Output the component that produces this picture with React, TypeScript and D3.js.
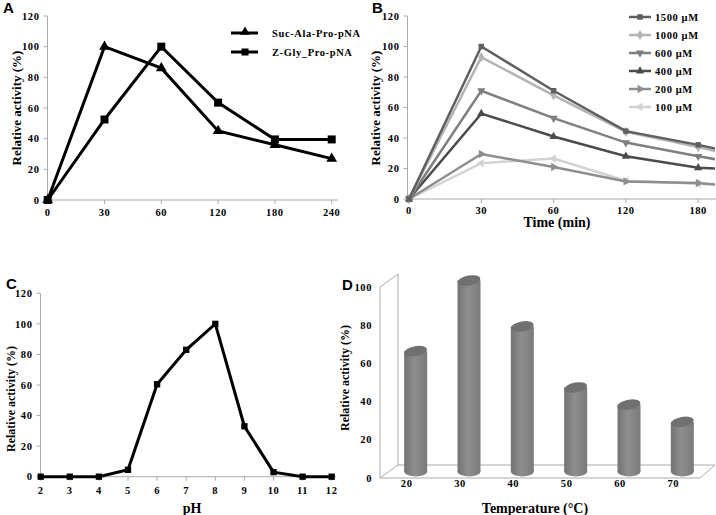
import * as d3 from 'd3';

// Panel A: substrate time course
const timeCatsA = ['0', '30', '60', '120', '180', '240'];
const sucAla = [0, 100, 86, 45, 36, 27];
const zGly = [0, 52.5, 100, 63.5, 39.5, 39.5];

// Panel B: concentration series (last point is beyond the clipped edge)
const timeCatsB = ['0', '30', '60', '120', '180', '240'];
const concLabels = ['1500 μM', '1000 μM', '600 μM', '400 μM', '200 μM', '100 μM'];
const concValues = [
  [0, 100, 71, 44.5, 35.5, 25],
  [0, 93, 68, 44, 34, 23],
  [0, 71, 53, 37, 28, 20],
  [0, 56, 41, 28, 20.5, 18],
  [0, 29.5, 21, 11.5, 10.5, 6],
  [0, 23.5, 26.5, 12, 10, 8],
];
const concColors = ['#5f5f5f', '#b3b3b3', '#7f7f7f', '#4b4b4b', '#8e8e8e', '#d2d2d2'];

// Panel C: pH profile
const phValues = [2, 3, 4, 5, 6, 7, 8, 9, 10, 11, 12];
const phActivity = [0, 0, 0, 4.5, 60.5, 83, 100, 33, 3, 0, 0];

// Panel D: temperature profile
const tempCats = ['20', '30', '40', '50', '60', '70'];
const tempActivity = [63, 100, 76, 44, 35, 26];

const yTicks = [0, 20, 40, 60, 80, 100, 120];
const yTicksD = [0, 20, 40, 60, 80, 100];

const serif = '"Liberation Serif", "Times New Roman", serif';
const sans = '"Liberation Sans", Arial, sans-serif';
const axisGray = '#aaaaaa';
const tickFont = { fontSize: 10.5, fontWeight: 'bold', fontFamily: serif, letterSpacing: 0.6 } as const;

const tri = d3.symbol().type(d3.symbolTriangle);
const sq = d3.symbol().type(d3.symbolSquare);
const dia = d3.symbol().type(d3.symbolDiamond);

function YAxis({ x, y, ticks }: { x: number; y: d3.ScaleLinear<number, number>; ticks: number[] }) {
  const [y0, y1] = y.range();
  return (
    <g>
      <line x1={x} x2={x} y1={y0} y2={y1} stroke={axisGray} />
      {ticks.map((t) => (
        <g key={t}>
          <line x1={x - 4} x2={x} y1={y(t)} y2={y(t)} stroke={axisGray} />
          <text x={x - 8} y={y(t)} dy="0.35em" textAnchor="end" {...tickFont}>
            {t}
          </text>
        </g>
      ))}
    </g>
  );
}

function PanelA() {
  const x = d3.scalePoint<string>().domain(timeCatsA).range([47.7, 331.7]);
  const y = d3.scaleLinear().domain([0, 120]).range([200, 16]);
  const line = d3.line<number>().x((_, i) => x(timeCatsA[i])!).y((d) => y(d));
  return (
    <g>
      <text x={3} y={13} fontSize={15} fontWeight="bold" fontFamily={sans}>A</text>
      <YAxis x={47.5} y={y} ticks={yTicks} />
      <line x1={47.5} x2={338} y1={200} y2={200} stroke={axisGray} />
      {timeCatsA.map((c) => (
        <g key={c}>
          <line x1={x(c)} x2={x(c)} y1={200} y2={204} stroke={axisGray} />
          <text x={x(c)} y={212} dy="0.35em" textAnchor="middle" {...tickFont}>{c}</text>
        </g>
      ))}
      <text transform="translate(21,108) rotate(-90)" textAnchor="middle" fontSize={13} fontWeight="bold" fontFamily={serif}>
        Relative activity (%)
      </text>
      <path d={line(sucAla)!} fill="none" stroke="#000" strokeWidth={3} />
      <path d={line(zGly)!} fill="none" stroke="#000" strokeWidth={3} />
      {sucAla.map((v, i) => (
        <path key={'t' + i} d={tri.size(50)()!} transform={`translate(${x(timeCatsA[i])},${y(v)})`} fill="#000" />
      ))}
      {zGly.map((v, i) => (
        <path key={'s' + i} d={sq.size(64)()!} transform={`translate(${x(timeCatsA[i])},${y(v)})`} fill="#000" />
      ))}
      <line x1={231} x2={258} y1={33} y2={33} stroke="#000" strokeWidth={3} />
      <path d={tri.size(40)()!} transform="translate(245,32)" fill="#000" />
      <text x={272} y={33} dy="0.35em" {...tickFont}>Suc-Ala-Pro-pNA</text>
      <line x1={231} x2={258} y1={52} y2={52} stroke="#000" strokeWidth={3} />
      <path d={sq.size(49)()!} transform="translate(245,52)" fill="#000" />
      <text x={272} y={52} dy="0.35em" {...tickFont}>Z-Gly_Pro-pNA</text>
    </g>
  );
}

function marker(i: number, size: number) {
  if (i === 0) return { d: sq.size(size)()!, rot: 0 };
  if (i === 1) return { d: dia.size(size)()!, rot: 0 };
  if (i === 2) return { d: tri.size(size)()!, rot: 180 };
  if (i === 3) return { d: tri.size(size)()!, rot: 0 };
  if (i === 4) return { d: tri.size(size)()!, rot: 90 };
  return { d: tri.size(size)()!, rot: -90 };
}

function PanelB() {
  const x = d3.scalePoint<string>().domain(timeCatsB).range([409, 770.5]);
  const y = d3.scaleLinear().domain([0, 120]).range([199, 16]);
  const line = d3.line<number>().x((_, i) => x(timeCatsB[i])!).y((d) => y(d));
  const order = d3.range(concValues.length).reverse();
  return (
    <g>
      <defs>
        <clipPath id="clipB">
          <rect x={400} y={0} width={315} height={205} />
        </clipPath>
      </defs>
      <text x={372} y={13} fontSize={15} fontWeight="bold" fontFamily={sans}>B</text>
      <YAxis x={407.5} y={y} ticks={yTicks} />
      <line x1={407.5} x2={716} y1={199} y2={199} stroke={axisGray} />
      {timeCatsB.slice(0, 5).map((c) => (
        <g key={c}>
          <line x1={x(c)} x2={x(c)} y1={199} y2={203} stroke={axisGray} />
          <text x={x(c)} y={210.5} dy="0.35em" textAnchor="middle" {...tickFont}>{c}</text>
        </g>
      ))}
      <text transform="translate(380,108) rotate(-90)" textAnchor="middle" fontSize={13} fontWeight="bold" fontFamily={serif}>
        Relative activity (%)
      </text>
      <text x={557} y={227} textAnchor="middle" fontSize={14} fontWeight="bold" fontFamily={serif}>Time (min)</text>
      <g clipPath="url(#clipB)">
        {order.map((s) => (
          <g key={s}>
            <path d={line(concValues[s])!} fill="none" stroke={concColors[s]} strokeWidth={2.5} />
            {concValues[s].map((v, i) => {
              const m = marker(s, 30);
              return (
                <path key={i} d={m.d} fill={concColors[s]}
                  transform={`translate(${x(timeCatsB[i])},${y(v)}) rotate(${m.rot})`} />
              );
            })}
          </g>
        ))}
      </g>
      {concLabels.map((lab, s) => {
        const ly = 17 + s * 18;
        const m = marker(s, 30);
        return (
          <g key={lab}>
            <line x1={629} x2={651} y1={ly} y2={ly} stroke={concColors[s]} strokeWidth={2.5} />
            <path d={m.d} fill={concColors[s]} transform={`translate(640,${ly}) rotate(${m.rot})`} />
            <text x={655} y={ly} dy="0.35em" {...tickFont}>{lab}</text>
          </g>
        );
      })}
    </g>
  );
}

function PanelC() {
  const x = d3.scaleLinear().domain([2, 12]).range([40.7, 331.7]);
  const y = d3.scaleLinear().domain([0, 120]).range([476.7, 293.3]);
  const line = d3.line<number>().x((_, i) => x(phValues[i])).y((d) => y(d));
  return (
    <g>
      <text x={6} y={289} fontSize={15} fontWeight="bold" fontFamily={sans}>C</text>
      <YAxis x={40.5} y={y} ticks={yTicks} />
      <line x1={40.5} x2={336} y1={476.7} y2={476.7} stroke={axisGray} />
      {phValues.map((p) => (
        <g key={p}>
          <line x1={x(p)} x2={x(p)} y1={476.7} y2={480.7} stroke={axisGray} />
          <text x={x(p)} y={490} dy="0.35em" textAnchor="middle" {...tickFont}>{p}</text>
        </g>
      ))}
      <text transform="translate(15,399) rotate(-90)" textAnchor="middle" fontSize={12} fontWeight="bold" fontFamily={serif}>
        Relative activity (%)
      </text>
      <text x={192} y={513} textAnchor="middle" fontSize={14} fontWeight="bold" fontFamily={serif}>pH</text>
      <path d={line(phActivity)!} fill="none" stroke="#000" strokeWidth={3} />
      {phActivity.map((v, i) => (
        <path key={i} d={sq.size(40)()!} transform={`translate(${x(phValues[i])},${y(v)})`} fill="#000" />
      ))}
    </g>
  );
}

function PanelD() {
  const dx = 18;
  const dy = -13;
  const x = d3.scaleBand<string>().domain(tempCats).range([380, 700]);
  const y = d3.scaleLinear().domain([0, 100]).range([478, 287]);
  const rx = 11.5;
  const ry = 5;
  const floorY = y(0);
  return (
    <g>
      <defs>
        <linearGradient id="cyl" x1="0" x2="1" y1="0" y2="0">
          <stop offset="0" stopColor="#737373" />
          <stop offset="0.45" stopColor="#8e8e8e" />
          <stop offset="1" stopColor="#7a7a7a" />
        </linearGradient>
      </defs>
      <text x={342} y={290} fontSize={15} fontWeight="bold" fontFamily={sans}>D</text>
      {/* walls and floor */}
      <g stroke={axisGray} fill="none">
        <line x1={380} x2={380} y1={y(0)} y2={y(100)} />
        <line x1={380} x2={380 + dx} y1={y(100)} y2={y(100) + dy} />
        <line x1={380 + dx} x2={380 + dx} y1={y(100) + dy} y2={floorY + dy} />
        <line x1={380} x2={380 + dx} y1={floorY} y2={floorY + dy} />
        <line x1={380 + dx} x2={700 + dx - 3} y1={floorY + dy} y2={floorY + dy} />
        <line x1={380} x2={700} y1={floorY} y2={floorY} />
        <line x1={700} x2={700 + dx - 3} y1={floorY} y2={floorY + dy} />
      </g>
      {yTicksD.map((t) => (
        <text key={t} x={372} y={y(t)} dy="0.35em" textAnchor="end" {...tickFont}>{t}</text>
      ))}
      {tempCats.map((c, i) => {
        const cx = x(c)! + x.bandwidth() / 2 + dx / 2;
        const bottom = floorY + dy / 2;
        const top = y(tempActivity[i]) + dy / 2;
        return (
          <g key={c}>
            <rect x={cx - rx} y={top} width={rx * 2} height={bottom - top} fill="url(#cyl)" />
            <ellipse cx={cx} cy={bottom} rx={rx} ry={ry} fill="url(#cyl)" />
            <ellipse cx={cx} cy={top} rx={rx} ry={ry} fill="#707070" transform={`rotate(-10,${cx},${top})`} />
          </g>
        );
      })}
      {tempCats.map((c) => (
        <text key={c} x={x(c)! + x.bandwidth() / 2} y={483} dy="0.35em" textAnchor="middle" {...tickFont}>{c}</text>
      ))}
      <text transform="translate(349,378) rotate(-90)" textAnchor="middle" fontSize={12} fontWeight="bold" fontFamily={serif}>
        Relative activity (%)
      </text>
      <text x={535} y={513} textAnchor="middle" fontSize={14} fontWeight="bold" fontFamily={serif}>Temperature (°C)</text>
    </g>
  );
}

export default function App() {
  return (
    <svg width={716} height={515} style={{ position: 'absolute', left: 0, top: 0, background: '#fff' }}>
      <PanelA />
      <PanelB />
      <PanelC />
      <PanelD />
    </svg>
  );
}
